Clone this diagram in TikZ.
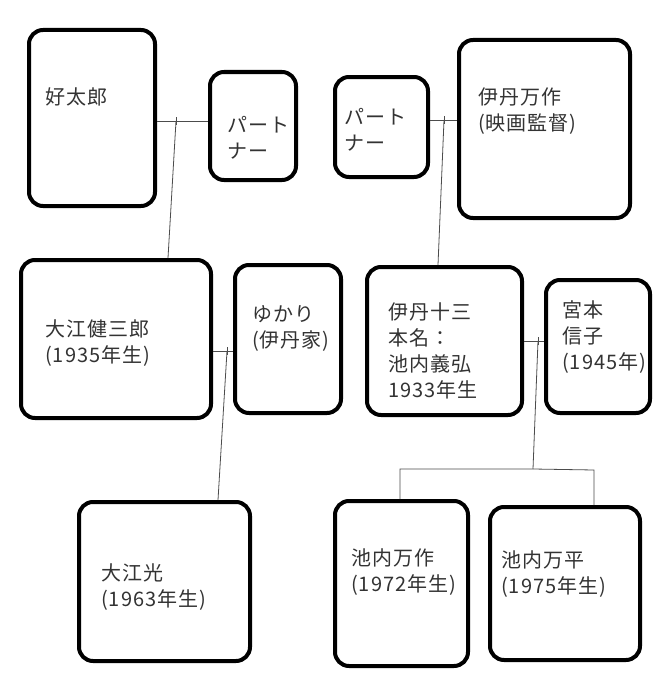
\documentclass[tikz,border=0pt]{standalone}
\usepackage{fontspec}
\newfontfamily\jp[LetterSpace=5]{Noto Sans CJK JP}

\tikzset{
	person/.style={draw, line width=4pt, rounded corners=14pt, inner sep=0pt},
	name text/.style={anchor=north west, align=left, inner sep=0pt, text=black!80,
		font=\jp\fontsize{20}{26}\selectfont},
	link/.style={draw=black!70, line width=0.8pt}
}

\begin{document}
\begin{tikzpicture}[x=1pt, y=-1pt]
	\useasboundingbox [fill=white] (0,0) rectangle (658,677);
	% boxes
	\node [person, minimum width=126pt, minimum height=176pt] (taro) at (92,118) {};
	\node [person, minimum width=86pt, minimum height=108pt] (partnerA) at (253,126) {};
	\node [person, minimum width=93pt, minimum height=100pt] (partnerB) at (381.5,127) {};
	\node [person, minimum width=171pt, minimum height=178pt] (mansaku) at (544.5,129) {};
	\node [person, minimum width=190pt, minimum height=158pt] (kenzaburo) at (116,339) {};
	\node [person, minimum width=106pt, minimum height=148pt] (yukari) at (288,339) {};
	\node [person, minimum width=155pt, minimum height=148pt] (juzo) at (444.5,341) {};
	\node [person, minimum width=104pt, minimum height=133pt] (nobuko) at (598,346.5) {};
	\node [person, minimum width=171pt, minimum height=159pt] (hikari) at (164.5,581.5) {};
	\node [person, minimum width=133pt, minimum height=165pt] (mansakuB) at (401.5,583.5) {};
	\node [person, minimum width=150pt, minimum height=153pt] (manpei) at (565,583.5) {};
	% names
	\node [name text] (t-taro) at (45,87) {好太郎};
	\node [name text] (t-partnerA) at (227,116) {パート\\ナー};
	\node [name text] (t-partnerB) at (344,108) {パート\\ナー};
	\node [name text] (t-mansaku) at (478,88) {伊丹万作\\(映画監督)};
	\node [name text] (t-kenzaburo) at (45,320) {大江健三郎\\(1935年生)};
	\node [name text] (t-yukari) at (252,305) {ゆかり\\(伊丹家)};
	\node [name text] (t-juzo) at (388,303) {伊丹十三\\本名：\\池内義弘\\1933年生};
	\node [name text] (t-nobuko) at (562,300) {宮本\\信子\\(1945年)};
	\node [name text] (t-hikari) at (101,563) {大江光\\(1963年生)};
	\node [name text] (t-mansakuB) at (351,548) {池内万作\\(1972年生)};
	\node [name text] (t-manpei) at (501,550) {池内万平\\(1975年生)};
	% marriages
	\coordinate (m1) at (176,121);
	\coordinate (m2) at (444,120);
	\coordinate (m3) at (227,351);
	\coordinate (m4) at (538,341);
	\draw [link] (taro.east |- m1) -- (partnerA.west |- m1);
	\draw [link] (partnerB.east |- m2) -- (mansaku.west |- m2);
	\draw [link] (kenzaburo.east |- m3) -- (yukari.west |- m3);
	\draw [link] (juzo.east |- m4) -- (nobuko.west |- m4);
	\foreach \m in {m1,m2,m3,m4}
		\draw [link] (\m) ++(0,-4) -- ++(0,8);
	% children
	\coordinate (d1) at (168,0);
	\coordinate (d2) at (438,0);
	\coordinate (d3) at (218,0);
	\coordinate (fork) at (533,469);
	\coordinate (forkL) at (400,469);
	\coordinate (forkR) at (594,470);
	\draw [link] (m1) -- (d1 |- kenzaburo.north);
	\draw [link] (m2) -- (d2 |- juzo.north);
	\draw [link] (m3) -- (d3 |- hikari.north);
	\draw [link] (m4) -- (fork);
	\draw [link] (forkL |- mansakuB.north) -- (forkL) -- (fork) -- (forkR) -- (forkR |- manpei.north);
\end{tikzpicture}
\end{document}
